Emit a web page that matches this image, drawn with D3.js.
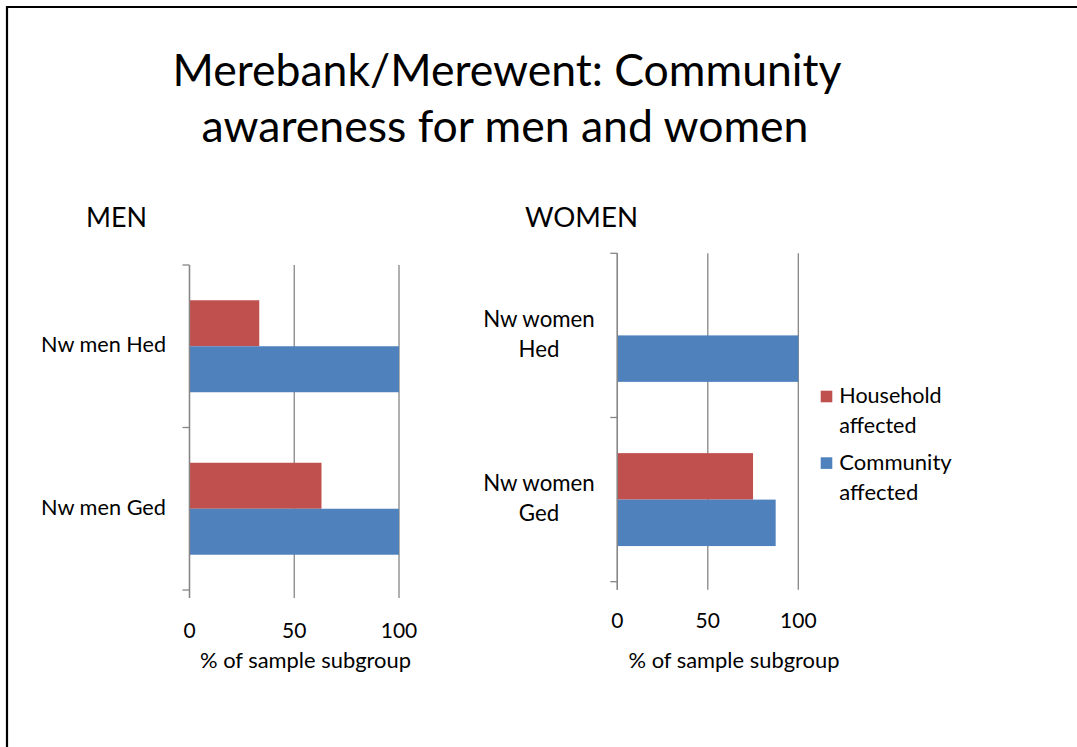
<!DOCTYPE html>
<html><head><meta charset="utf-8">
<script src="https://cdn.jsdelivr.net/npm/d3@7"></script>
<style>
body{margin:0;background:#fff}
svg{display:block}
text{font-family:Lato,"Open Sans",sans-serif;fill:#000}
</style>
</head><body>
<svg id="c" width="1077" height="747"></svg>
<script>
// ---- data ----
const titleLines = ["Merebank/Merewent: Community", "awareness for men and women"];
const seriesNames = ["Household affected", "Community affected"];
const seriesColors = ["#C0504D", "#4F81BD"];
const menCategories = ["Nw men Hed", "Nw men Ged"];
const menHousehold = [33.3, 63];
const menCommunity = [100, 100];
const womenCategories = ["Nw women Hed", "Nw women Ged"];
const womenHousehold = [0, 75];
const womenCommunity = [100, 87.5];
const xTickValues = [0, 50, 100];
const axisTitle = "% of sample subgroup";
const panelTitles = ["MEN", "WOMEN"];

const svg = d3.select("#c");
svg.append("rect").attr("width",1077).attr("height",747).attr("fill","#fff");
// frame
svg.append("path").attr("d","M7,747V7H1077").attr("fill","none").attr("stroke","#000").attr("stroke-width",2.2);

function fit(sel, target, start){
  sel.style("font-size", start+"px");
  const w = sel.node().getComputedTextLength();
  sel.style("font-size", (start*target/w).toFixed(2)+"px");
  return sel;
}

// title
const tl1 = svg.append("text").attr("x",507).attr("y",86).attr("text-anchor","middle").text(titleLines[0]);
fit(tl1, 669, 40);
const tl2 = svg.append("text").attr("x",505).attr("y",142).attr("text-anchor","middle").text(titleLines[1]);
fit(tl2, 607, 40);

const panels = [
  {title:panelTitles[0], titleX:86, titleW:61, cats:menCategories, hh:menHousehold, cm:menCommunity,
   x0:189.5, x1:399, y0:265, y1:590, wrap:false, labelRight:166, labelW:125,
   tickBase:638, atCenter:305.5, atBase:668},
  {title:panelTitles[1], titleX:525, titleW:113, cats:womenCategories, hh:womenHousehold, cm:womenCommunity,
   x0:617.3, x1:798.3, y0:253.3, y1:581.7, wrap:true, labelCenter:539, labelW:111.5,
   tickBase:628.3, atCenter:734, atBase:668}
];

const grid = "#868686";

panels.forEach(p => {
  const g = svg.append("g");
  const pt = g.append("text").attr("x",p.titleX).attr("y",227).text(p.title);
  fit(pt, p.titleW, 30);

  const x = d3.scaleLinear().domain([0,100]).range([p.x0,p.x1]);
  const y = d3.scaleBand().domain(p.cats).range([p.y0,p.y1]).paddingInner(0.434).paddingOuter(0.217);
  const yi = d3.scaleBand().domain(seriesNames).range([0,y.bandwidth()]);
  const step = y.step();

  // gridlines + x ticks
  g.selectAll(".grid").data(xTickValues).join("line")
    .attr("x1",d=>x(d)).attr("x2",d=>x(d)).attr("y1",p.y0).attr("y2",p.y1+8)
    .attr("stroke",grid).attr("stroke-width",1.3);

  // bars
  const rows = p.cats.map((c,i)=>({cat:c, vals:[p.hh[i], p.cm[i]]}));
  rows.forEach(r=>{
    g.selectAll(null).data(r.vals.map((v,j)=>({v, s:seriesNames[j], c:seriesColors[j]}))).join("rect")
      .attr("x",x(0)).attr("y",d=>y(r.cat)+yi(d.s))
      .attr("width",d=>x(d.v)-x(0)).attr("height",yi.bandwidth())
      .attr("fill",d=>d.c);
  });

  // y axis line and ticks
  g.append("line").attr("x1",x(0)).attr("x2",x(0)).attr("y1",p.y0).attr("y2",p.y1+8)
    .attr("stroke",grid).attr("stroke-width",1.3);
  const yTicks = d3.range(p.cats.length+1).map(i=>p.y0+i*step);
  g.selectAll(".yt").data(yTicks).join("line")
    .attr("x1",x(0)-7).attr("x2",x(0)).attr("y1",d=>d).attr("y2",d=>d)
    .attr("stroke",grid).attr("stroke-width",1.3);

  // x tick labels
  g.selectAll(".xl").data(xTickValues).join("text")
    .attr("x",d=>x(d)).attr("y",p.tickBase).attr("text-anchor","middle")
    .style("font-size","21px").text(d=>d);

  // axis title
  const at = g.append("text").attr("x",p.atCenter).attr("y",p.atBase).attr("text-anchor","middle").text(axisTitle);
  fit(at, 211, 22);

  // category labels
  p.cats.forEach(c=>{
    const cy = y(c) + y.bandwidth()/2;
    if(!p.wrap){
      const t = g.append("text").attr("x",p.labelRight).attr("y",cy+6).attr("text-anchor","end").text(c);
      fit(t, p.labelW, 22);
    } else {
      const k = c.lastIndexOf(" ");
      const l1 = c.slice(0,k), l2 = c.slice(k+1);
      const t1 = g.append("text").attr("x",p.labelCenter).attr("y",cy-8.5).attr("text-anchor","middle").text(l1);
      fit(t1, p.labelW, 22);
      g.append("text").attr("x",p.labelCenter).attr("y",cy+21.3).attr("text-anchor","middle")
        .style("font-size",t1.style("font-size")).text(l2);
    }
  });
});

// legend
const leg = svg.append("g");
const legY = [390.7, 457.3];
seriesNames.forEach((s,i)=>{
  leg.append("rect").attr("x",820.7).attr("y",legY[i]).attr("width",11.6).attr("height",11.6).attr("fill",seriesColors[i]);
  const parts = s.split(" ");
  const t1 = leg.append("text").attr("x",839.3).attr("y",legY[i]+12.6).text(parts[0]);
  fit(t1, i===0?102.4:112.4, 22);
  leg.append("text").attr("x",839.3).attr("y",legY[i]+42.6).style("font-size",t1.style("font-size")).text(parts[1]);
});
</script>
</body></html>
